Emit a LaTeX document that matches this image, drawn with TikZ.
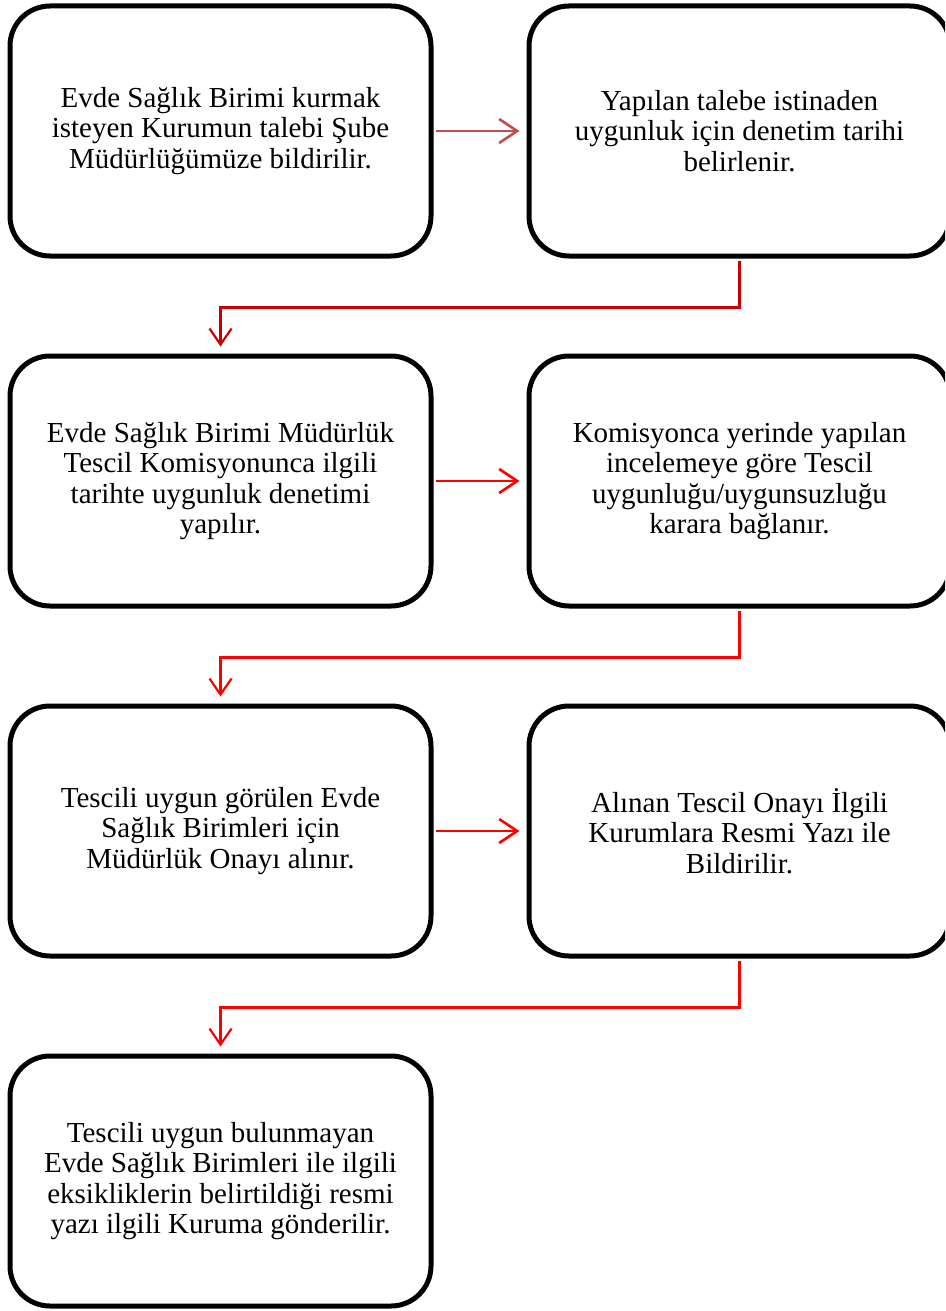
\documentclass[tikz,border=0pt]{standalone}
\usepackage{fontspec}
\setmainfont{Liberation Serif}
\usetikzlibrary{arrows.meta}
\definecolor{softred}{RGB}{192,80,77}
\definecolor{deepred}{RGB}{204,0,0}
\begin{document}
\begin{tikzpicture}[x=1pt,y=1pt,
  stepbox/.style={draw=black, line width=5pt, rounded corners=40pt,
    minimum width=421pt, minimum height=250pt, inner sep=0pt,
    align=center, font=\fontsize{29}{30.5}\selectfont},
  arr/.style={line width=2.6pt, -{Straight Barb[length=18pt,width=24pt,line width=2.6pt]}},
  link/.style={line width=2.2pt, -{Straight Barb[length=16pt,width=22pt,line width=2.2pt]}}]
\useasboundingbox (0,0) rectangle (945,-1311);
\clip (0,0) rectangle (945,-1311);

% left column: x 10..431, right column: x 529..950
\node[stepbox] (b1) at (220.5,-131) {Evde Sağlık Birimi kurmak\\isteyen Kurumun talebi Şube\\Müdürlüğümüze bildirilir.};
\node[stepbox] (b2) at (739.5,-131) {Yapılan talebe istinaden\\uygunluk için denetim tarihi\\belirlenir.};
\node[stepbox] (b3) at (220.5,-481) {Evde Sağlık Birimi Müdürlük\\Tescil Komisyonunca ilgili\\tarihte uygunluk denetimi\\yapılır.};
\node[stepbox] (b4) at (739.5,-481) {Komisyonca yerinde yapılan\\incelemeye göre Tescil\\uygunluğu/uygunsuzluğu\\karara bağlanır.};
\node[stepbox] (b5) at (220.5,-831) {Tescili uygun görülen Evde\\Sağlık Birimleri için\\Müdürlük Onayı alınır.};
\node[stepbox] (b6) at (739.5,-831) {Alınan Tescil Onayı İlgili\\Kurumlara Resmi Yazı ile\\Bildirilir.};
\node[stepbox] (b7) at (220.5,-1181) {Tescili uygun bulunmayan\\Evde Sağlık Birimleri ile ilgili\\eksikliklerin belirtildiği resmi\\yazı ilgili Kuruma gönderilir.};

% horizontal steps
\draw[arr, softred, shorten <=2.5pt, shorten >=7pt] (b1.east) -- (b2.west);
\draw[arr, red, shorten <=2.5pt, shorten >=7pt] (b3.east) -- (b4.west);
\draw[arr, red, shorten <=2.5pt, shorten >=7pt] (b5.east) -- (b6.west);

% row-to-row links
\draw[link, deepred, shorten <=2.5pt, shorten >=7pt] (b2.south) -- ++(0,-49) -| (b3.north);
\draw[link, red, shorten <=2.5pt, shorten >=7pt] (b4.south) -- ++(0,-49) -| (b5.north);
\draw[link, red, shorten <=2.5pt, shorten >=7pt] (b6.south) -- ++(0,-49) -| (b7.north);
\end{tikzpicture}
\end{document}
